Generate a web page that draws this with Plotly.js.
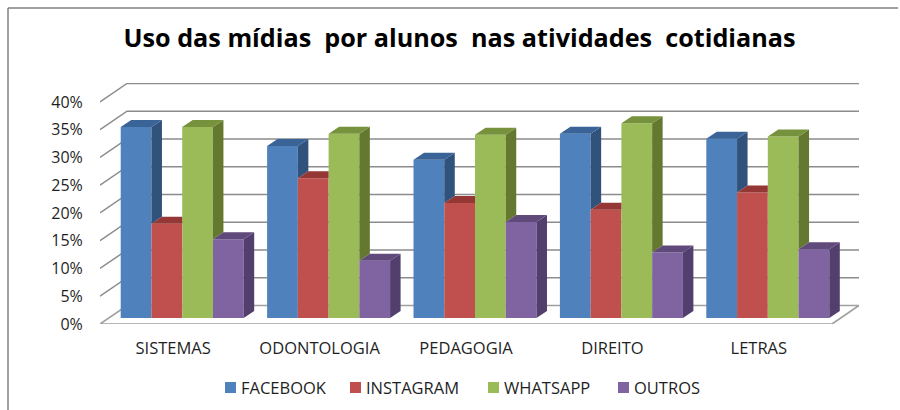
<!DOCTYPE html>
<html><head><meta charset="utf-8">
<script src="https://cdn.plot.ly/plotly-3.0.0.min.js"></script>
<style>html,body{margin:0;padding:0;background:#fff}</style></head>
<body><div id="chart" style="width:900px;height:410px"></div>
<script>
const categories = ['SISTEMAS','ODONTOLOGIA','PEDAGOGIA','DIREITO','LETRAS'];
const facebook  = [34.4, 31.0, 28.5, 33.2, 32.3];
const instagram = [17.0, 25.2, 20.7, 19.5, 22.6];
const whatsapp  = [34.4, 33.2, 33.0, 35.1, 32.7];
const outros    = [14.2, 10.3, 17.3, 11.8, 12.4];
const seriesNames = ['FACEBOOK','INSTAGRAM','WHATSAPP','OUTROS'];
const frontColors = ['#4F81BD','#C0504D','#9BBB59','#8064A2'];
const sideColors  = ['#31527B','#8C3A38','#64792F','#523F6D'];
const topColors   = ['#3A6398','#953735','#76923C','#604A7B'];
const yTicks = [0,5,10,15,20,25,30,35,40];
const yTickText = ['0%','5%','10%','15%','20%','25%','30%','35%','40%'];
const legendSwatchX = [225,350,488,618];

const series = [facebook, instagram, whatsapp, outros];
const L=100,R=859,T=83,B=324, catW=146.4, pxPerPct=5.55;
const wallDX=27/catW, wallDY=18.5/pxPerPct;
const planeDX=9/catW, planeDY=6/pxPerPct;
const barDX=10.5/catW, barDY=7/pxPerPct;
const groupW=0.84, barW=groupW/4;
const idx=categories.map((_,i)=>i);

const traces=[];
const left=-0.5, right=categories.length-0.5;
const gx=[],gy=[];
yTicks.forEach(v=>{ if(v===0) return;
  gx.push(left,left+wallDX,right+wallDX,null);
  gy.push(v,v+wallDY,v+wallDY,null);
});
traces.push({type:'scatter',mode:'lines',x:gx,y:gy,xaxis:'x',yaxis:'y',cliponaxis:false,
  line:{color:'#8C8C8C',width:1.5},showlegend:false,hoverinfo:'skip'});
traces.push({type:'scatter',mode:'lines',
  x:[left,right,right+wallDX,left+wallDX,left],
  y:[0,0,wallDY,wallDY,0],xaxis:'x',yaxis:'y',cliponaxis:false,
  line:{color:'#A0A0A0',width:1.7},showlegend:false,hoverinfo:'skip'});
series.forEach((vals,s)=>{
  traces.push({type:'bar',name:seriesNames[s],x:idx,y:vals,xaxis:'x2',yaxis:'y2',
    marker:{color:frontColors[s],line:{width:0}},hoverinfo:'y+name',showlegend:false});
});
series.forEach((vals,s)=>{
  const sx=[],sy=[],tx=[],ty=[];
  vals.forEach((v,i)=>{
    const xl=i-groupW/2+s*barW, xr=xl+barW;
    const nv = s<series.length-1 ? series[s+1][i] : 0;
    if(nv<v){
      sx.push(xr,xr+barDX,xr+barDX,xr,xr,null);
      sy.push(nv,nv+barDY,v+barDY,v,nv,null);
      tx.push(xl,xr,xr+barDX,xl+barDX,xl,null);
      ty.push(v,v,v+barDY,v+barDY,v,null);
    } else if(nv<v+barDY){
      const xc=xr+barDX*(nv-v)/barDY;
      sx.push(xc,xr+barDX,xr+barDX,xc,null);
      sy.push(nv,nv,v+barDY,nv,null);
      tx.push(xl,xr,xc,xr+barDX,xl+barDX,xl,null);
      ty.push(v,v,nv,v+barDY,v+barDY,v,null);
    } else {
      tx.push(xl,xr,xr,xl+barDX,xl,null);
      ty.push(v,v,v+barDY,v+barDY,v,null);
    }
  });
  if(sx.length) traces.push({type:'scatter',mode:'lines',x:sx,y:sy,xaxis:'x2',yaxis:'y2',fill:'toself',
    fillcolor:sideColors[s],line:{width:0,color:sideColors[s]},showlegend:false,hoverinfo:'skip',cliponaxis:false});
  traces.push({type:'scatter',mode:'lines',x:tx,y:ty,xaxis:'x2',yaxis:'y2',fill:'toself',
    fillcolor:topColors[s],line:{width:0,color:topColors[s]},showlegend:false,hoverinfo:'skip',cliponaxis:false});
});

const W=R-L,H=B-T;
const px=x=>(x-L)/W, py=y=>(B-y)/H;
const family='"Open Sans", sans-serif', textColor='#1f1f1f';
const shapes=[
  {type:'line',xref:'paper',yref:'paper',x0:px(8),x1:px(8),y0:py(8),y1:py(410),line:{color:'#808080',width:1.5}},
  {type:'line',xref:'paper',yref:'paper',x0:px(8),x1:px(898),y0:py(8),y1:py(8),line:{color:'#808080',width:1.5}}
];
const annotations=[];
seriesNames.forEach((n,s)=>{
  const x0=legendSwatchX[s];
  shapes.push({type:'rect',xref:'paper',yref:'paper',x0:px(x0),x1:px(x0+11),y0:py(382),y1:py(393),
    fillcolor:frontColors[s],line:{width:0}});
  annotations.push({xref:'paper',yref:'paper',x:px(x0+14),y:py(387),xanchor:'left',yanchor:'middle',
    text:n,showarrow:false,font:{family:family,size:16.5,color:textColor}});
});
const layout={
  width:900,height:410,paper_bgcolor:'#fff',plot_bgcolor:'rgba(0,0,0,0)',
  margin:{l:L,r:900-R,t:T,b:410-B,pad:0},
  font:{family:family,size:15,color:textColor},
  title:{text:'Uso das mídias\u00a0\u00a0por alunos\u00a0\u00a0nas atividades\u00a0\u00a0cotidianas',
    font:{family:family,size:25.2,color:'#000',weight:700},
    x:459.5/900,xanchor:'center',xref:'container',y:1-38/410,yanchor:'middle'},
  barmode:'group',bargap:1-groupW,bargroupgap:0,
  xaxis:{type:'linear',range:[left,right+wallDX],tickmode:'array',tickvals:idx,ticktext:categories,
    showgrid:false,zeroline:false,showline:false,ticks:'outside',ticklen:9,tickcolor:'rgba(0,0,0,0)',
    tickfont:{family:family,size:16.5,color:textColor},fixedrange:true},
  yaxis:{type:'linear',range:[0,H/pxPerPct],tickmode:'array',tickvals:yTicks,ticktext:yTickText,
    showgrid:false,zeroline:false,showline:false,ticks:'outside',ticklen:13,tickcolor:'rgba(0,0,0,0)',
    tickfont:{family:family,size:16,color:textColor},fixedrange:true},
  xaxis2:{type:'linear',overlaying:'x',visible:false,fixedrange:true,
    range:[left-planeDX,right+wallDX-planeDX]},
  yaxis2:{type:'linear',overlaying:'y',visible:false,fixedrange:true,
    range:[-planeDY,H/pxPerPct-planeDY]},
  showlegend:false,
  shapes:shapes,annotations:annotations
};
Plotly.newPlot('chart',traces,layout,{displayModeBar:false,responsive:false});
</script></body></html>
